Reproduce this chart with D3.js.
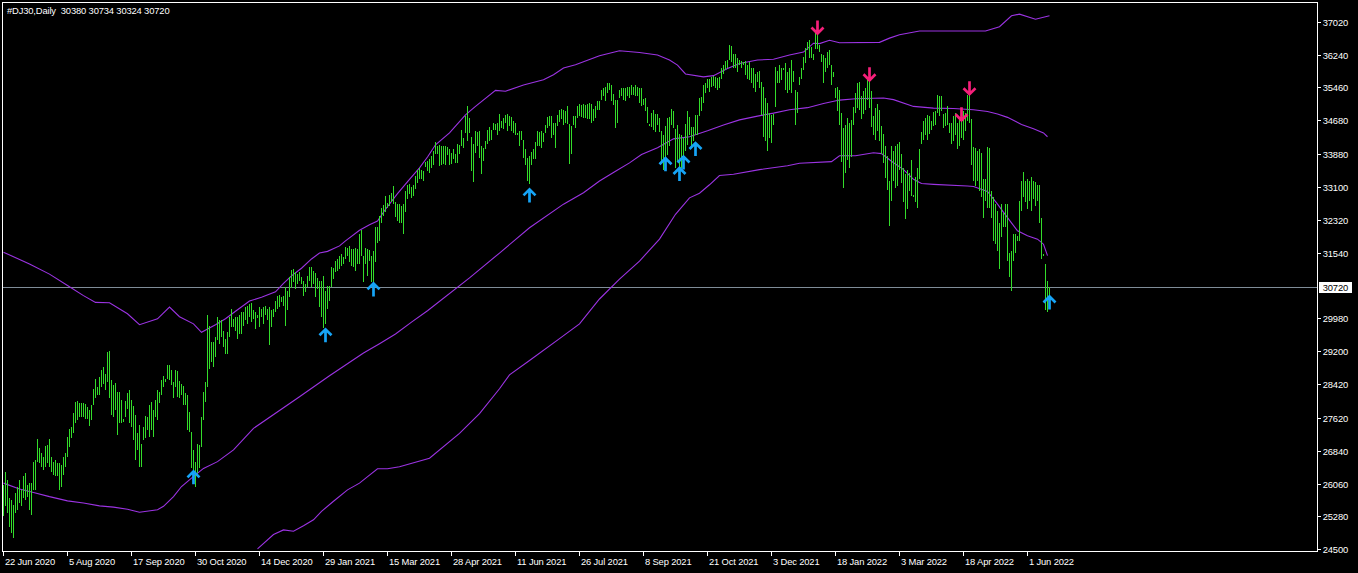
<!DOCTYPE html>
<html>
<head>
<meta charset="utf-8">
<script src="https://cdn.jsdelivr.net/npm/d3@7"></script>
<style>
  html, body { margin: 0; padding: 0; background: #000; }
  svg { display: block; }
  text { font-family: "Liberation Sans", Arial, sans-serif; font-size: 9.4px; letter-spacing: -0.15px; fill: #fff; }
</style>
</head>
<body>
<div id="chart"></div>
<script>
// ---- data ----
const symbolTitle = '#DJ30,Daily  30380 30734 30324 30720';
const lastPrice = 30720;

// daily highs, one per bar (bar 0 = 22 Jun 2020)
const highs = [
  // 0-105
  26030,26340,26150,25710,25670,25560,25830,25990,26150,25910,
  26230,26320,26030,26070,26070,26560,26620,27110,26900,26780,
  26700,26950,26970,27110,26700,26580,26620,26540,26540,26500,
  26700,26780,27160,27360,27410,27740,28000,28010,27970,27960,
  27960,27940,27880,27800,27920,28300,28530,28350,28590,28760,
  28830,28670,29180,29200,28510,28390,28450,28230,28230,28040,
  27600,28020,28200,28270,28040,27900,27680,27250,27450,27010,
  27410,27660,27640,27920,28000,27800,28040,28290,28230,28510,
  28610,28530,28870,28870,28760,28470,28750,28730,28490,28430,
  28370,28200,28160,27760,27290,26860,26580,27010,26970,27640,
  28230,28470,30050,29810,29420,29420,
  // 106-211
  29540,30020,29950,29930,29690,29500,29650,30010,30210,29970,
  30010,30020,30050,30130,30130,30260,30280,30320,30350,30170,
  30130,30050,30260,30210,30260,30280,30210,30240,30170,30210,
  30400,30520,30540,30480,30520,30720,30640,30950,31130,31150,
  31070,31030,31070,30970,30870,30800,30990,31190,31210,31110,
  31050,30940,30870,30860,30990,30640,30760,30760,31210,31170,
  31350,31390,31470,31510,31440,31680,31660,31700,31620,31620,
  31650,31620,31980,32070,31470,31660,31620,31600,31470,31580,
  32140,32140,32410,32610,32660,32880,32710,32910,32960,33120,
  32730,32700,32690,32650,32700,33000,33140,33180,33100,33140,
  33360,33490,33550,33490,33480,33700,
  // 212-318
  33710,33750,33830,33950,34170,34070,34090,34070,34070,34080,
  34040,33990,33910,33990,33870,34120,34090,34460,34260,34780,
  35030,34740,34280,34120,34420,34400,34420,34070,34030,34200,
  34460,34520,34460,34620,34590,34620,34830,34670,34740,34810,
  34830,34780,34750,34660,34620,34380,34420,34420,34220,34010,
  33790,33830,33930,34010,34170,34420,34400,34420,34380,34580,
  34750,34780,34780,34620,34620,34810,34930,34950,34930,34890,
  35010,34590,34540,34780,34780,35010,35070,35040,35070,35050,
  35070,35090,35070,34960,35010,35150,35150,35410,35440,35480,
  35560,35560,35510,35300,35170,35170,35410,35440,35440,35440,
  35460,35480,35520,35480,35510,35480,35440,
  // 319-425
  35450,35190,35220,35000,34590,34850,34930,34820,34820,34740,
  34430,34320,34550,34740,34770,34950,34890,34480,34570,34350,
  34330,34260,34590,34890,34770,34510,34510,34810,34810,35220,
  35240,35520,35560,35660,35660,35710,35740,35710,35690,35710,
  35910,36000,36080,36110,36460,36450,36260,36260,36150,36110,
  36080,36070,36080,35990,36070,35910,35910,35790,35830,35850,
  35600,35480,35200,35080,34850,34810,34820,35950,35850,36000,
  35910,35920,36030,35830,35910,36110,35850,35400,35360,35710,
  35910,36190,36400,36540,36580,36420,36260,36740,36820,36460,
  36260,36230,36150,36300,36340,35990,35830,35440,35480,35400,
  34850,34490,34570,34730,34610,34690,35000,
  // 426-523
  35330,35560,35600,35250,35370,35450,35680,35640,35370,34780,
  34970,35070,34930,34540,34360,34070,33830,33240,34070,33950,
  34070,34110,34170,33890,33550,33400,33510,33440,33730,32910,
  33330,33540,34010,34410,34670,34740,34800,34780,34660,34880,
  34910,35290,35250,35250,34820,34850,35010,34620,34620,34780,
  34850,34620,34740,34780,34890,34850,35290,35330,34700,34040,
  34030,33950,33990,33910,33280,33280,34040,34030,33000,32850,
  32690,32530,32250,32700,32490,32700,32690,31540,31580,31980,
  31990,31940,32770,33250,33460,33250,33280,33240,33330,33250,
  33220,33140,33140,32370,31510,31280,30870,30734
];

// daily lows, one per bar
const lows = [
  // 0-105
  25280,25520,25360,25040,24890,24770,25360,25440,25590,25520,
  25710,25670,25750,25440,25320,25910,25910,26580,26540,26460,
  26380,26460,26540,26460,26340,26260,26230,26230,25910,25990,
  26260,26460,26700,26930,27130,27250,27490,27580,27630,27630,
  27640,27600,27600,27430,27560,27920,28080,28160,28160,28350,
  28430,28270,28470,28080,27680,27640,27800,27210,27490,27490,
  27530,27640,27840,27490,27410,27090,26620,26860,26460,26450,
  27090,27130,27330,27170,27330,27170,27640,27580,27970,28160,
  28340,28480,28550,28510,28390,28080,28350,28120,28080,28160,
  27920,27920,27330,27290,26420,26230,25990,26300,26420,26930,
  27560,28000,28350,28790,28940,28830,
  // 106-211
  29060,29460,29380,29540,29300,29140,29140,29540,29770,29770,
  29690,29500,29610,29610,29810,29930,29850,30010,29890,29970,
  29730,30000,29770,30010,29850,30050,29930,29340,29770,30010,
  30130,30210,30240,30360,30280,29790,30170,30480,30690,30840,
  30680,30800,30870,30800,30520,30600,30720,30870,30720,30800,
  30480,30680,30240,30010,29760,29850,30210,30400,30720,30910,
  31070,31110,31150,31230,31270,31390,31470,31310,31230,31190,
  31110,31270,31270,31470,30840,31270,30990,31330,30840,30680,
  31310,31780,31820,32250,32410,32510,32610,32650,32730,32690,
  32390,32290,32250,32250,31980,32510,32810,32920,32840,32880,
  33040,33200,33280,33280,33240,33570,
  // 212-318
  33470,33440,33540,33630,33870,33880,33590,33630,33650,33630,
  33850,33630,33650,33750,33670,33670,33870,34070,34030,34380,
  34180,34380,33470,33220,33910,34070,33790,33400,33710,33990,
  34110,34180,34220,34440,34460,34340,34420,34500,34480,34620,
  34420,34540,34420,34380,34340,34330,34070,34220,33790,33630,
  33240,33160,33630,33750,33750,34070,34070,34030,34170,34380,
  34500,34540,34260,34340,34030,34540,34640,34720,34580,34620,
  34590,33650,33870,34580,34500,34740,34780,34750,34740,34740,
  34700,34700,34620,34670,34740,34930,34930,35170,35250,35130,
  35330,35410,35130,35050,34500,34620,35210,35250,35170,35130,
  35250,35210,35290,35270,35250,35250,35090,
  // 319-425
  35030,35040,34900,34610,34540,34510,34450,34410,34570,34410,
  33700,33510,33510,33860,34060,34570,34490,33550,33700,33550,
  33550,33700,33940,34100,34330,34060,34180,34330,34330,34790,
  34890,35080,35320,35440,35360,35480,35500,35440,35400,35440,
  35670,35790,35870,35910,36110,36070,35930,35910,35830,35990,
  35930,35990,35750,35670,35630,35560,35440,35360,35600,35440,
  34810,34290,34180,33940,34260,34140,34570,35000,35560,35560,
  35630,35870,35400,35320,35400,35320,35600,34570,34850,35520,
  35670,35870,36030,36340,36160,36150,36110,36380,36380,36300,
  36070,35560,35830,35910,35990,35520,35710,35200,34890,34570,
  33700,33070,33430,33740,33550,33820,34570,
  // 426-523
  34850,34970,34930,34700,34830,34930,35170,34970,34520,34340,
  34220,34420,34180,33870,33670,33320,33020,32180,32770,33240,
  33080,33120,33510,33200,32730,32330,32570,33000,32880,32860,
  32730,32610,33280,34110,34220,34340,34220,34360,34460,34540,
  34580,34850,34780,34890,34500,34540,34580,34380,34110,34180,
  34340,34010,34070,34260,34220,34420,34660,34620,33630,33240,
  33120,33240,33000,32850,32370,32770,32610,32610,32370,31820,
  31740,31580,31150,31900,32140,32150,31350,30970,30620,31350,
  31520,31820,31820,32530,32850,32730,32570,32770,32530,32810,
  32650,32770,32250,31390,31460,30170,30130,30324
];

// band lines: [bar index, price]
const upperBand = [
  [0,31550],[13,31270],[23,31030],[32,30760],[40,30520],[46,30360],[53,30350],[62,30090],
  [68,29830],[77,29970],[83,30250],[88,30020],[95,29850],[99,29650],[106,29830],[111,29970],
  [116,30150],[123,30390],[129,30480],[136,30610],[140,30810],[144,30990],[149,31170],[154,31390],
  [158,31530],[162,31570],[168,31700],[171,31820],[178,32070],[183,32200],[187,32290],[191,32570],
  [197,32940],[203,33280],[208,33550],[212,33810],[216,34100],[223,34380],[231,34810],[236,35010],
  [246,35390],[251,35370],[260,35520],[270,35640],[275,35760],[280,35920],[286,36000],[298,36210],
  [308,36330],[318,36290],[327,36230],[333,36110],[337,35990],[341,35780],[350,35710],[355,35740],
  [362,35910],[368,36030],[377,36110],[385,36130],[393,36230],[400,36300],[405,36510],[408,36500],
  [413,36580],[418,36520],[438,36530],[443,36630],[448,36710],[458,36800],[491,36800],[498,36900],
  [504,37160],[508,37200],[516,37080],[523,37160]
];
const middleBand = [
  [0,26070],[8,25930],[15,25850],[23,25750],[32,25650],[40,25600],[48,25530],[55,25500],
  [62,25450],[68,25380],[77,25440],[80,25520],[85,25750],[89,25990],[94,26190],[100,26420],
  [107,26580],[115,26860],[125,27370],[148,28120],[163,28620],[180,29160],[188,29380],[196,29610],
  [204,29890],[212,30160],[233,30940],[248,31530],[263,32130],[280,32690],[290,32960],[298,33240],
  [306,33470],[313,33670],[319,33870],[327,34030],[335,34240],[343,34290],[352,34430],[360,34570],
  [368,34690],[377,34780],[385,34850],[393,34930],[402,34980],[410,35080],[418,35160],[426,35190],
  [440,35210],[445,35170],[455,35010],[465,34970],[475,34960],[485,34930],[492,34890],[497,34830],
  [502,34750],[509,34580],[515,34480],[520,34380],[522,34290]
];
const lowerBand = [
  [127,24510],[135,24850],[140,24960],[145,24930],[150,25060],[155,25200],[159,25400],[165,25640],
  [172,25910],[178,26070],[183,26260],[187,26410],[192,26410],[198,26460],[213,26660],[228,27250],
  [238,27720],[248,28310],[253,28640],[263,28980],[278,29500],[288,29850],[298,30440],[308,30910],
  [318,31340],[328,31860],[336,32450],[343,32840],[348,32950],[353,33150],[358,33370],[365,33400],
  [378,33510],[392,33600],[398,33660],[414,33700],[418,33840],[426,33840],[435,33910],[439,33890],
  [444,33710],[450,33510],[455,33280],[459,33180],[465,33160],[482,33120],[485,33110],[492,32990],
  [497,32690],[502,32370],[507,32060],[512,31940],[517,31860],[520,31740],[522,31470]
];

// signal arrows: [bar index, price at the tip]
const upArrows = [[95,26350],[161,29720],[185,30810],[263,33040],[331,33780],[338,33550],[340,33820],[346,34140],[523,30500]];
const downArrows = [[407,36740],[433,35630],[479,34680],[483,35300]];

// axis labels
const priceTicks = [37020,36240,35460,34680,33880,33100,32320,31540,29980,29200,28420,27620,26840,26060,25280,24500];
const dateLabels = ['22 Jun 2020','5 Aug 2020','17 Sep 2020','30 Oct 2020','14 Dec 2020','29 Jan 2021','15 Mar 2021',
  '28 Apr 2021','11 Jun 2021','26 Jul 2021','8 Sep 2021','21 Oct 2021','3 Dec 2021','18 Jan 2022','3 Mar 2022',
  '18 Apr 2022','1 Jun 2022'];
const barsPerLabel = 32;

// ---- drawing ----
const config = {
  width: 1358,
  height: 573,
  plot: { left: 2.5, top: 2.5, right: 1317.5, bottom: 551.5 },
  barColor: '#33dc2a',
  bandColor: '#9b33e2',
  upColor: '#16a4f6',
  downColor: '#f51f7a'
};

const svg = d3.select('#chart').append('svg')
  .attr('width', config.width)
  .attr('height', config.height)
  .style('background', '#000');

const x = d3.scaleLinear().domain([0, 523]).range([3.5, 1049.5]);
const y = d3.scaleLinear().domain([24500, 37020]).range([549.3, 21.7]);

svg.append('clipPath').attr('id', 'plot-clip')
  .append('rect')
  .attr('x', 3).attr('y', 3)
  .attr('width', config.plot.right - 3)
  .attr('height', config.plot.bottom - 3);

const plot = svg.append('g').attr('clip-path', 'url(#plot-clip)');

// current price line
const py = Math.round(y(lastPrice)) + 0.5;
plot.append('line')
  .attr('x1', 3).attr('x2', config.plot.right)
  .attr('y1', py).attr('y2', py)
  .attr('stroke', '#7f8c98')
  .attr('stroke-width', 1);

// bands
const bandLine = d3.line()
  .x(d => x(d[0]))
  .y(d => y(d[1]));

plot.selectAll('.band')
  .data([upperBand, middleBand, lowerBand])
  .enter().append('path')
  .attr('class', 'band')
  .attr('d', bandLine)
  .attr('fill', 'none')
  .attr('stroke', config.bandColor)
  .attr('stroke-width', 1.1);

// high-low bars
const bars = d3.range(Math.min(highs.length, lows.length));
plot.selectAll('.bar')
  .data(bars)
  .enter().append('line')
  .attr('class', 'bar')
  .attr('x1', i => x(i))
  .attr('x2', i => x(i))
  .attr('y1', i => Math.round(y(highs[i])))
  .attr('y2', i => Math.max(Math.round(y(lows[i])), Math.round(y(highs[i])) + 1))
  .attr('stroke', config.barColor)
  .attr('stroke-width', 1)
  .attr('shape-rendering', 'crispEdges');

// arrows
const arrowUp = (cx, ty) => `M${cx - 6},${ty + 6}L${cx},${ty}L${cx + 6},${ty + 6}M${cx},${ty + 0.5}L${cx},${ty + 13}`;
const arrowDown = (cx, ty) => `M${cx - 6},${ty - 6}L${cx},${ty}L${cx + 6},${ty - 6}M${cx},${ty - 0.5}L${cx},${ty - 13}`;

plot.selectAll('.arrow-up')
  .data(upArrows)
  .enter().append('path')
  .attr('class', 'arrow-up')
  .attr('d', d => arrowUp(x(d[0]), y(d[1])))
  .attr('fill', 'none')
  .attr('stroke', config.upColor)
  .attr('stroke-width', 2.7);

plot.selectAll('.arrow-down')
  .data(downArrows)
  .enter().append('path')
  .attr('class', 'arrow-down')
  .attr('d', d => arrowDown(x(d[0]), y(d[1])))
  .attr('fill', 'none')
  .attr('stroke', config.downColor)
  .attr('stroke-width', 2.7);

// frame
svg.append('path')
  .attr('d', `M${config.plot.left},${config.plot.top}H${config.plot.right}V${config.plot.bottom}H${config.plot.left}Z`)
  .attr('fill', 'none')
  .attr('stroke', '#fff')
  .attr('stroke-width', 1)
  .attr('shape-rendering', 'crispEdges');

// price axis
const yAxis = svg.append('g');
yAxis.selectAll('.ytick')
  .data(priceTicks)
  .enter().append('line')
  .attr('x1', config.plot.right).attr('x2', config.plot.right + 3.5)
  .attr('y1', d => Math.round(y(d)) + 0.5).attr('y2', d => Math.round(y(d)) + 0.5)
  .attr('stroke', '#fff')
  .attr('shape-rendering', 'crispEdges');
yAxis.selectAll('.ylabel')
  .data(priceTicks)
  .enter().append('text')
  .attr('x', 1322.7)
  .attr('y', d => Math.round(y(d)) + 3.8)
  .text(d => d);

// last price tag
svg.append('rect')
  .attr('x', 1319).attr('y', py - 5.5)
  .attr('width', 33).attr('height', 11)
  .attr('fill', '#fff');
svg.append('text')
  .attr('x', 1322.7).attr('y', py + 3.5)
  .style('fill', '#000')
  .text(lastPrice);

// date axis
const xAxis = svg.append('g');
xAxis.selectAll('.xtick')
  .data(dateLabels)
  .enter().append('line')
  .attr('x1', (d, i) => x(i * barsPerLabel)).attr('x2', (d, i) => x(i * barsPerLabel))
  .attr('y1', config.plot.bottom).attr('y2', config.plot.bottom + 4.5)
  .attr('stroke', '#fff')
  .attr('shape-rendering', 'crispEdges');
xAxis.selectAll('.xlabel')
  .data(dateLabels)
  .enter().append('text')
  .attr('x', (d, i) => x(i * barsPerLabel) + 1.5)
  .attr('y', 564.5)
  .text(d => d);

// title
svg.append('text')
  .attr('x', 7).attr('y', 13.5)
  .style('white-space', 'pre')
  .text(symbolTitle);
</script>
</body>
</html>
